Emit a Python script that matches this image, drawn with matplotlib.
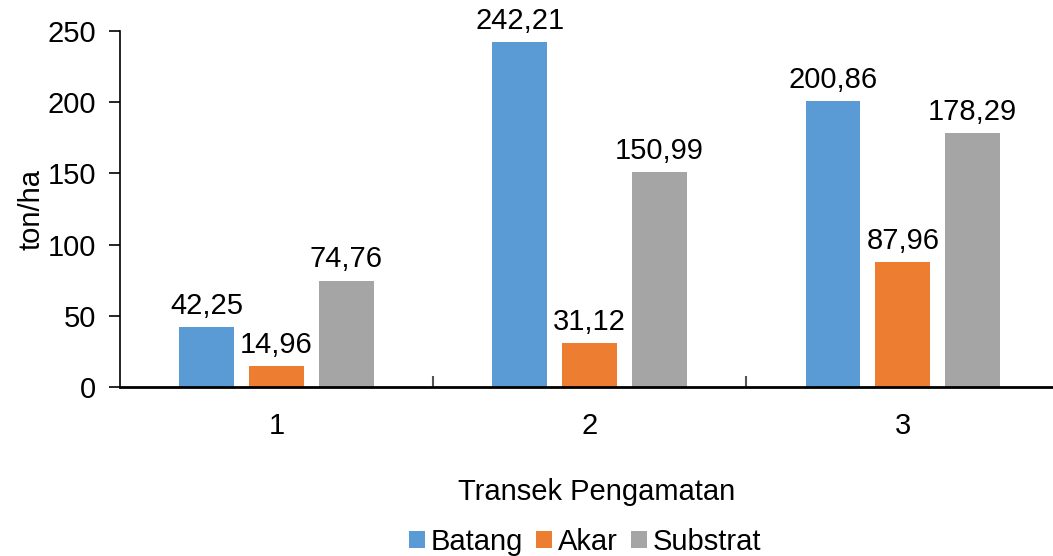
import numpy as np
import matplotlib.pyplot as plt
from matplotlib.ticker import FixedLocator

plt.rcParams['font.family'] = ['Liberation Sans', 'DejaVu Sans']

# Data
categories = ['1', '2', '3']
series_names = ['Batang', 'Akar', 'Substrat']
batang = [42.25, 242.21, 200.86]
akar = [14.96, 31.12, 87.96]
substrat = [74.76, 150.99, 178.29]
colors = ['#5B9BD5', '#ED7D31', '#A5A5A5']

fig = plt.figure(figsize=(10.53, 5.56), dpi=100)
ax = fig.add_axes([0.114, 0.304, 0.892, 0.640])

x = np.arange(len(categories))
width = 0.175
step = 0.223
for i, (vals, name, c) in enumerate(zip([batang, akar, substrat], series_names, colors)):
    bars = ax.bar(x + (i - 1) * step, vals, width, color=c, label=name)
    for b, v in zip(bars, vals):
        ax.text(b.get_x() + b.get_width() / 2, v + 5, f"{v:.2f}".replace('.', ','),
                ha='center', va='bottom', fontsize=21)

ax.set_xlim(-0.5, 2.5)
ax.set_ylim(0, 250)
ax.set_yticks([0, 50, 100, 150, 200, 250])
ax.set_xticks(x)
ax.set_xticklabels(categories)
ax.xaxis.set_minor_locator(FixedLocator([0.5, 1.5]))
ax.tick_params(axis='x', which='major', length=0, pad=18, labelsize=21)
ax.tick_params(axis='x', which='minor', direction='in', length=8, width=1.5, color='#555555')
ax.tick_params(axis='y', length=8, width=1.2, labelsize=21, pad=9)

for s in ['top', 'right']:
    ax.spines[s].set_visible(False)
ax.spines['left'].set_linewidth(1.2)
ax.spines['bottom'].set_linewidth(2)

ax.set_ylabel('ton/ha', fontsize=21, labelpad=2)
fig.text(0.567, 0.115, 'Transek Pengamatan', ha='center', va='center', fontsize=21)

ax.legend(loc='center', bbox_to_anchor=(0.495, -0.435), ncol=3, frameon=False,
          fontsize=21, handlelength=0.55, handleheight=0.55, handletextpad=0.2,
          columnspacing=0.45)

fig.savefig('out.png', dpi=100)
